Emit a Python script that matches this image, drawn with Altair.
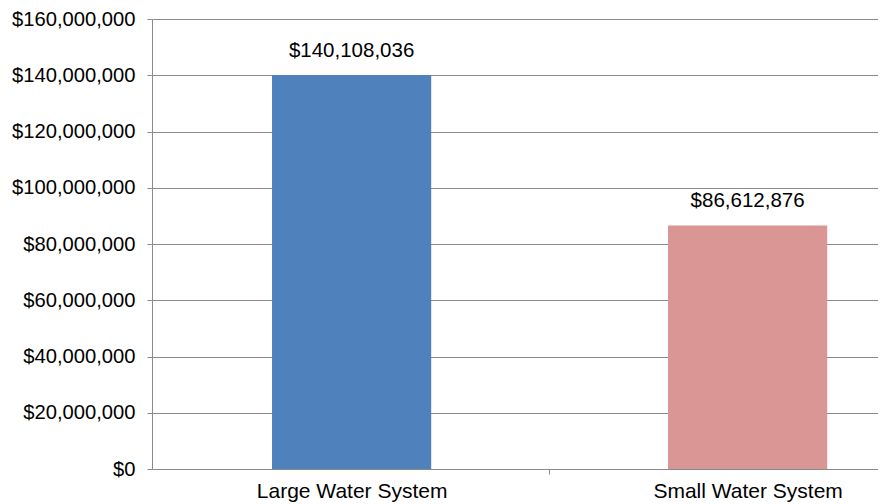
import altair as alt
import pandas as pd

categories = ["Large Water System", "Small Water System"]
values = [140108036, 86612876]
colors = ["#4F81BD", "#D99694"]
y_ticks = [0, 20000000, 40000000, 60000000, 80000000, 100000000, 120000000, 140000000, 160000000]

df = pd.DataFrame({"system": categories, "cost": values})

grey = "#8a8a8a"
FONT = "Liberation Sans"

x = alt.X(
    "system:N",
    sort=categories,
    title=None,
    scale=alt.Scale(paddingInner=0.598, paddingOuter=0.2157, align=0.7026),
    axis=alt.Axis(
        labelAngle=0, labelFontSize=21, labelFont=FONT, labelColor="black",
        labelLimit=0, tickOffset=197.5, labelOffset=-197.5, tickSize=5,
        tickColor=grey, domainColor=grey, labelPadding=6, grid=False,
    ),
)
y = alt.Y(
    "cost:Q",
    title=None,
    scale=alt.Scale(domain=[0, 160000000]),
    axis=alt.Axis(
        values=y_ticks, format="$,.0f", labelFontSize=20.2, labelFont=FONT,
        labelColor="black", tickSize=5, tickColor=grey, domainColor=grey,
        gridColor=grey, grid=True, labelPadding=12,
    ),
)

bars = alt.Chart(df).mark_bar().encode(
    x=x, y=y,
    color=alt.Color("system:N", scale=alt.Scale(domain=categories, range=colors), legend=None),
)
labels = alt.Chart(df).mark_text(
    dy=-18, baseline="alphabetic", fontSize=20.5, font=FONT, color="black"
).encode(x=x, y=y, text=alt.Text("cost:Q", format="$,.0f"))

chart = (bars + labels).properties(
    width=726, height=450,
    padding={"left": 144, "top": 11, "right": 0, "bottom": 33},
    autosize=alt.AutoSizeParams(type="none"),
).configure_view(stroke=None)

chart.save("out.html", embed_options={"renderer": "svg", "actions": False})
